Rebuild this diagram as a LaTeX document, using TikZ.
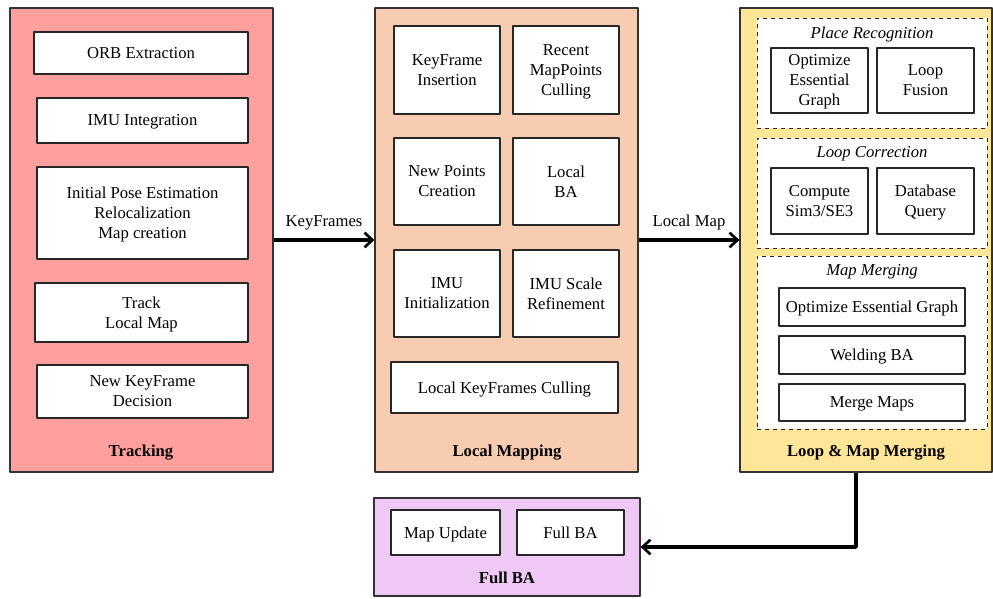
\documentclass[tikz,border=0pt]{standalone}
\usepackage{fontspec}
\setmainfont{Liberation Serif}
\usetikzlibrary{fit,arrows.meta}
\definecolor{trackcol}{RGB}{255,160,158}
\definecolor{mapcol}{RGB}{248,204,176}
\definecolor{loopcol}{RGB}{255,230,153}
\definecolor{fullcol}{RGB}{240,200,245}
\begin{document}
\begin{tikzpicture}[x=0.75pt,y=-0.75pt,line join=round,
	every node/.style={font=\fontsize{12.5}{15}\selectfont},
	stage/.style={draw=black!80,line width=0.8pt,inner sep=0pt},
	sub/.style={draw=black!85,fill=white,line width=0.8pt,inner sep=0pt,
		label={[align=center,text depth=0.5ex,yshift=-1pt]center:#1}},
	group/.style={draw=black!85,fill=white,dashed,line width=0.7pt,inner sep=0pt},
	flow/.style={line width=2.6pt,-{Straight Barb[length=6pt,width=11pt,line width=2pt]}}]
	\useasboundingbox (0,0) rectangle (993,599);
	% Tracking
	\node[stage,fill=trackcol,fit={(10,8) (273,472)}] (tracking) {};
	\node[font=\fontsize{12.5}{15}\selectfont\bfseries] (trackname) at (141,453) {Tracking};
	\node[sub={ORB Extraction},fit={(34,32) (248,74)}] (orb) {};
	\node[sub={IMU Integration},fit={(37,98) (248,143)}] (imuint) {};
	\node[sub={Initial Pose Estimation\\Relocalization\\Map creation},fit={(37,167) (248,259)}] (initpose) {};
	\node[sub={Track\\Local Map},fit={(35,283) (248,342)}] (tracklocal) {};
	\node[sub={New KeyFrame\\Decision},fit={(37,365) (248,418)}] (newkf) {};
	% Local Mapping
	\node[stage,fill=mapcol,fit={(375,8) (638,472)}] (mapping) {};
	\node[font=\fontsize{12.5}{15}\selectfont\bfseries] (mapname) at (507,453) {Local Mapping};
	\node[sub={KeyFrame\\Insertion},fit={(394,26) (500,114)}] (kfins) {};
	\node[sub={Recent\\MapPoints\\Culling},fit={(513,26) (619,114)}] (mpcull) {};
	\node[sub={New Points\\Creation},fit={(394,138) (500,225)}] (newpts) {};
	\node[sub={Local\\BA},fit={(513,138) (619,225)}] (localba) {};
	\node[sub={IMU\\Initialization},fit={(394,250) (500,337)}] (imuinit) {};
	\node[sub={IMU Scale\\Refinement},fit={(513,250) (619,337)}] (imuscale) {};
	\node[sub={Local KeyFrames Culling},fit={(391,362) (618,413)}] (kfcull) {};
	% Loop & Map Merging
	\node[stage,fill=loopcol,fit={(740,8) (992,472)}] (loop) {};
	\node[font=\fontsize{12.5}{15}\selectfont\bfseries] (loopname) at (866,453) {Loop \& Map Merging};
	\node[group,fit={(757,18) (987,128)}] (placerec) {};
	\node[font=\fontsize{12.5}{15}\selectfont\itshape] (placename) at (872,34) {Place Recognition};
	\node[sub={Optimize\\Essential\\Graph},fit={(771,48) (868,113)}] (optess) {};
	\node[sub={Loop\\Fusion},fit={(877,48) (974,113)}] (loopfus) {};
	\node[group,fit={(757,138) (987,248)}] (loopcor) {};
	\node[font=\fontsize{12.5}{15}\selectfont\itshape] (corname) at (872,154) {Loop Correction};
	\node[sub={Compute\\Sim3/SE3},fit={(771,168) (868,234)}] (sim3) {};
	\node[sub={Database\\Query},fit={(877,168) (974,234)}] (dbquery) {};
	\node[group,fit={(757,256) (987,429)}] (mapmerge) {};
	\node[font=\fontsize{12.5}{15}\selectfont\itshape] (mergename) at (872,272) {Map Merging};
	\node[sub={Optimize Essential Graph},fit={(779,288) (965,326)}] (optess2) {};
	\node[sub={Welding BA},fit={(779,336) (965,374)}] (weldba) {};
	\node[sub={Merge Maps},fit={(779,384) (965,421)}] (mergemaps) {};
	% Full BA
	\node[stage,fill=fullcol,fit={(374,498) (640,596)}] (fullba) {};
	\node[font=\fontsize{12.5}{15}\selectfont\bfseries] (fullname) at (507,578) {Full BA};
	\node[sub={Map Update},fit={(391,510) (500,555)}] (mapupd) {};
	\node[sub={Full BA},fit={(517,510) (624,555)}] (fullbasub) {};
	% connectors
	\draw[flow] (tracking) -- (mapping) node[midway,above=3pt] {KeyFrames};
	\draw[flow] (mapping) -- (loop) node[midway,above=3pt] {Local Map};
	\draw[flow] ([xshift=-7.5pt]loop.south) |- (fullba.east);
\end{tikzpicture}
\end{document}
